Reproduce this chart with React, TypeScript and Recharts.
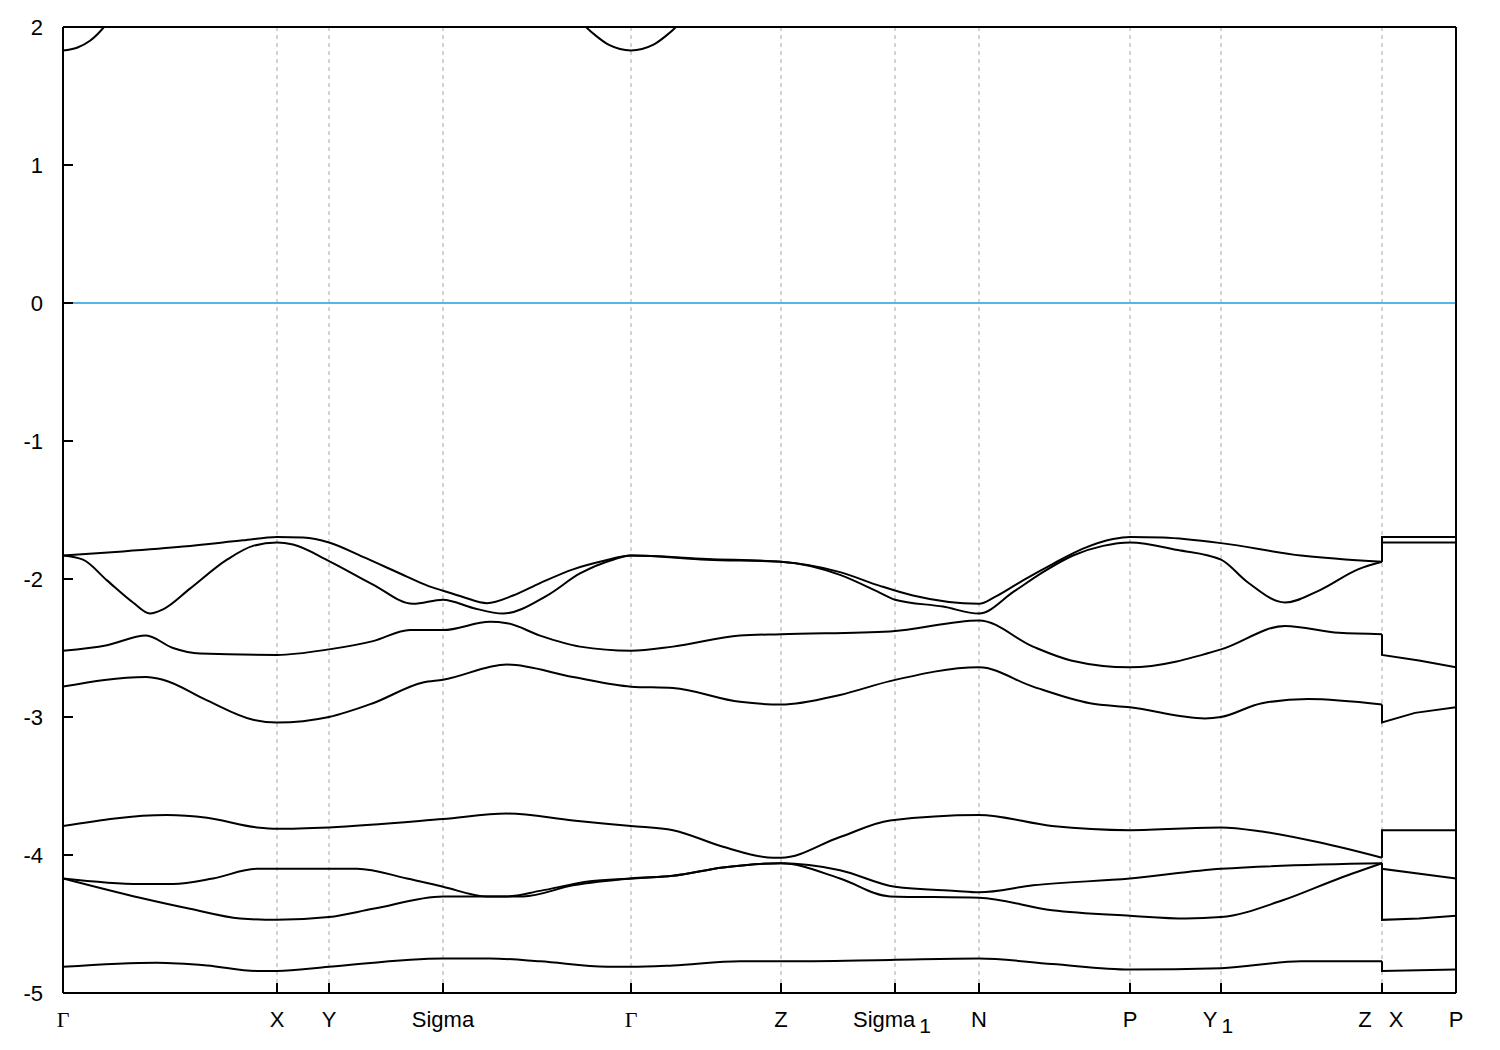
import React from "react";
import {
  LineChart,
  Line,
  XAxis,
  YAxis,
  CartesianGrid,
  ReferenceLine,
} from "recharts";

// k-path positions (arb. units along the path) and their labels
const kTicks = [0, 214, 266, 380, 568, 718, 832, 916, 1067, 1158, 1319, 1393];
const kLabels = ["Γ", "X", "Y", "Sigma", "Γ", "Z", "Sigma1", "N", "P", "Y1", "Z|X", "P"];
const eTicks = [-5, -4, -3, -2, -1, 0, 1, 2];

// conduction band pieces (clipped at the top of the window)
const cond1: [number, number][] = [[0, 1.83], [14, 1.85], [27, 1.9], [41, 2.0], [55, 2.14]];
const cond2: [number, number][] = [
  [505, 2.16], [523, 2.0], [534, 1.93], [546, 1.87], [568, 1.83],
  [590, 1.87], [602, 1.93], [613, 2.0], [631, 2.16],
];

// valence bands, Gamma ... Z
const band1: [number, number][] = [
  [0, -1.83], [60, -1.8], [120, -1.765], [180, -1.72], [214, -1.695], [240, -1.7],
  [266, -1.735], [300, -1.84], [337, -1.96], [365, -2.05], [380, -2.085], [400, -2.13],
  [424, -2.175], [450, -2.12], [477, -2.03], [510, -1.93], [540, -1.87], [568, -1.83],
  [644, -1.855], [718, -1.875], [777, -1.95], [817, -2.05], [850, -2.12], [916, -2.18],
  [932, -2.13], [960, -2.01], [990, -1.89], [1020, -1.78], [1050, -1.71], [1067, -1.695],
  [1100, -1.7], [1158, -1.74], [1238, -1.83], [1319, -1.875],
];
const band2: [number, number][] = [
  [0, -1.83], [20, -1.86], [44, -2.01], [70, -2.17], [87, -2.25], [100, -2.22],
  [127, -2.07], [164, -1.86], [190, -1.76], [214, -1.735], [230, -1.75], [266, -1.87],
  [310, -2.04], [350, -2.18], [380, -2.15], [410, -2.21], [440, -2.25], [484, -2.12],
  [517, -1.96], [550, -1.86], [568, -1.83], [644, -1.86], [718, -1.875], [777, -1.97],
  [817, -2.1], [832, -2.15], [880, -2.2], [916, -2.25], [951, -2.09], [980, -1.95],
  [1010, -1.83], [1040, -1.76], [1067, -1.735], [1115, -1.79], [1158, -1.86], [1184, -2.02],
  [1222, -2.17], [1257, -2.08], [1295, -1.93], [1319, -1.875],
];
const band3: [number, number][] = [
  [0, -2.52], [44, -2.48], [83, -2.41], [110, -2.5], [137, -2.54], [214, -2.55],
  [266, -2.51], [310, -2.45], [347, -2.37], [380, -2.37], [427, -2.31], [444, -2.32],
  [477, -2.41], [517, -2.49], [568, -2.52], [610, -2.49], [677, -2.41], [718, -2.4],
  [827, -2.38], [916, -2.3], [970, -2.49], [1008, -2.59], [1067, -2.64], [1158, -2.51],
  [1222, -2.34], [1276, -2.39], [1319, -2.4],
];
const band4: [number, number][] = [
  [0, -2.78], [83, -2.71], [100, -2.73], [144, -2.88], [190, -3.02], [214, -3.04],
  [266, -3.0], [310, -2.9], [360, -2.75], [380, -2.73], [444, -2.62], [510, -2.71],
  [568, -2.78], [610, -2.79], [677, -2.89], [718, -2.91], [777, -2.84], [827, -2.74],
  [916, -2.64], [970, -2.78], [1027, -2.9], [1067, -2.93], [1142, -3.01], [1158, -3.0],
  [1199, -2.9], [1245, -2.87], [1319, -2.91],
];
const band5: [number, number][] = [
  [0, -3.79], [104, -3.71], [144, -3.73], [194, -3.8], [214, -3.81], [266, -3.8],
  [380, -3.74], [444, -3.7], [510, -3.75], [568, -3.79], [610, -3.82], [660, -3.94],
  [710, -4.02], [718, -4.02], [777, -3.87], [827, -3.75], [916, -3.71], [989, -3.79],
  [1067, -3.82], [1158, -3.8], [1199, -3.83], [1257, -3.91], [1319, -4.02],
];
const band6: [number, number][] = [
  [0, -4.17], [77, -4.21], [110, -4.21], [150, -4.17], [194, -4.1], [214, -4.1],
  [266, -4.1], [294, -4.1], [344, -4.17], [380, -4.23], [424, -4.3], [460, -4.3],
  [510, -4.22], [568, -4.17], [610, -4.15], [660, -4.09], [718, -4.06], [777, -4.11],
  [832, -4.23], [893, -4.26], [916, -4.27], [970, -4.22], [1067, -4.17], [1158, -4.1],
  [1319, -4.06],
];
const band7: [number, number][] = [
  [0, -4.17], [77, -4.31], [127, -4.39], [177, -4.46], [214, -4.47], [266, -4.45],
  [310, -4.39], [380, -4.3], [444, -4.3], [477, -4.26], [527, -4.19], [568, -4.17],
  [610, -4.15], [660, -4.09], [718, -4.06], [777, -4.17], [827, -4.3], [916, -4.31],
  [989, -4.4], [1067, -4.44], [1123, -4.46], [1158, -4.45], [1219, -4.33], [1276, -4.17],
  [1319, -4.06],
];
const band8: [number, number][] = [
  [0, -4.81], [94, -4.78], [144, -4.8], [194, -4.84], [214, -4.84], [266, -4.81],
  [380, -4.75], [427, -4.75], [477, -4.77], [544, -4.81], [568, -4.81], [610, -4.8],
  [677, -4.77], [718, -4.77], [827, -4.76], [916, -4.75], [989, -4.79], [1067, -4.83],
  [1158, -4.82], [1238, -4.77], [1319, -4.77],
];

// Z|X ... P  (the jump at Z|X is kept as two points at the same k)
const seg1: [number, number][] = [[1319, -1.875], [1319, -1.695], [1393, -1.695]];
const seg2: [number, number][] = [[1319, -1.875], [1319, -1.735], [1393, -1.735]];
const seg3: [number, number][] = [[1319, -2.4], [1319, -2.55], [1356, -2.59], [1393, -2.64]];
const seg4: [number, number][] = [[1319, -2.91], [1319, -3.04], [1352, -2.97], [1393, -2.93]];
const seg5: [number, number][] = [[1319, -4.02], [1319, -3.82], [1393, -3.82]];
const seg6: [number, number][] = [[1319, -4.06], [1319, -4.1], [1393, -4.17]];
const seg7: [number, number][] = [[1319, -4.06], [1319, -4.47], [1356, -4.46], [1393, -4.44]];
const seg8: [number, number][] = [[1319, -4.77], [1319, -4.84], [1393, -4.83]];

const smooth = [cond1, cond2, band1, band2, band3, band4, band5, band6, band7, band8];
const jumps = [seg1, seg2, seg3, seg4, seg5, seg6, seg7, seg8];

const toPts = (arr: [number, number][]) => arr.map(([k, e]) => ({ k, e }));

const SANS = "'Liberation Sans', Arial, sans-serif";
const SERIF = "'Liberation Serif', 'DejaVu Serif', serif";

function BottomTick(props: any) {
  const { x, y, payload } = props;
  const label = kLabels[kTicks.indexOf(payload.value)] ?? "";
  const base = y + 34;
  let txt;
  if (label === "Γ") {
    txt = <text x={x} y={base} textAnchor="middle" fontFamily={SERIF} fontSize={22} fill="#000">Γ</text>;
  } else if (label === "Z|X") {
    txt = (
      <g fontFamily={SANS} fontSize={22} fill="#000">
        <text x={x - 17} y={base} textAnchor="middle">Z</text>
        <text x={x + 14} y={base} textAnchor="middle">X</text>
      </g>
    );
  } else if (label.endsWith("1")) {
    txt = (
      <text x={x - 3} y={base} textAnchor="middle" fontFamily={SANS} fontSize={22} fill="#000">
        {label.slice(0, -1)}
        <tspan dx={4} dy={6} fontSize={21}>1</tspan>
      </text>
    );
  } else {
    txt = <text x={x} y={base} textAnchor="middle" fontFamily={SANS} fontSize={22} fill="#000">{label}</text>;
  }
  return (
    <g>
      <line x1={x} y1={y} x2={x} y2={y - 10} stroke="#000" strokeWidth={2} />
      {txt}
    </g>
  );
}

function TopTick(props: any) {
  const { x, y } = props;
  return <line x1={x} y1={y} x2={x} y2={y + 10} stroke="#000" strokeWidth={2} />;
}

function LeftTick(props: any) {
  const { x, y, payload } = props;
  return (
    <g>
      <line x1={x} y1={y} x2={x + 10} y2={y} stroke="#000" strokeWidth={2} />
      <text x={x - 20} y={y + 8} textAnchor="end" fontFamily={SANS} fontSize={22} fill="#000">
        {String(payload.value)}
      </text>
    </g>
  );
}

function RightTick(props: any) {
  const { x, y } = props;
  return <line x1={x} y1={y} x2={x - 10} y2={y} stroke="#000" strokeWidth={2} />;
}

export default function App() {
  return (
    <div style={{ width: 1484, height: 1035 }}>
      <LineChart width={1484} height={1035} margin={{ top: 18, right: 35, bottom: 0, left: 0 }}>
        <CartesianGrid horizontal={false} stroke="#a8a8a8" strokeDasharray="4 4" strokeWidth={1} />
        <XAxis
          dataKey="k"
          type="number"
          domain={[0, 1393]}
          ticks={kTicks}
          interval={0}
          allowDataOverflow
          height={50}
          tickSize={0}
          tickMargin={0}
          tickLine={false}
          axisLine={{ stroke: "#000", strokeWidth: 2 }}
          tick={(p: any) => <BottomTick {...p} />}
        />
        <XAxis
          xAxisId="top"
          orientation="top"
          dataKey="k"
          type="number"
          domain={[0, 1393]}
          ticks={kTicks}
          interval={0}
          height={1}
          tickSize={0}
          tickMargin={0}
          tickLine={false}
          axisLine={{ stroke: "#000", strokeWidth: 2 }}
          tick={(p: any) => <TopTick {...p} />}
        />
        <YAxis
          type="number"
          domain={[-5, 2]}
          ticks={eTicks}
          interval={0}
          allowDataOverflow
          width={55}
          tickSize={0}
          tickMargin={0}
          tickLine={false}
          axisLine={{ stroke: "#000", strokeWidth: 2 }}
          tick={(p: any) => <LeftTick {...p} />}
        />
        <YAxis
          yAxisId="right"
          orientation="right"
          type="number"
          domain={[-5, 2]}
          ticks={eTicks}
          interval={0}
          width={1}
          tickSize={0}
          tickMargin={0}
          tickLine={false}
          axisLine={{ stroke: "#000", strokeWidth: 2 }}
          tick={(p: any) => <RightTick {...p} />}
        />
        <ReferenceLine y={0} stroke="#56b4e9" strokeWidth={2} />
        {smooth.map((b, i) => (
          <Line
            key={"s" + i}
            data={toPts(b)}
            dataKey="e"
            type="monotone"
            stroke="#000"
            strokeWidth={2}
            dot={false}
            activeDot={false}
            isAnimationActive={false}
          />
        ))}
        {jumps.map((b, i) => (
          <Line
            key={"j" + i}
            data={toPts(b)}
            dataKey="e"
            type="linear"
            stroke="#000"
            strokeWidth={2}
            dot={false}
            activeDot={false}
            isAnimationActive={false}
          />
        ))}
      </LineChart>
    </div>
  );
}
